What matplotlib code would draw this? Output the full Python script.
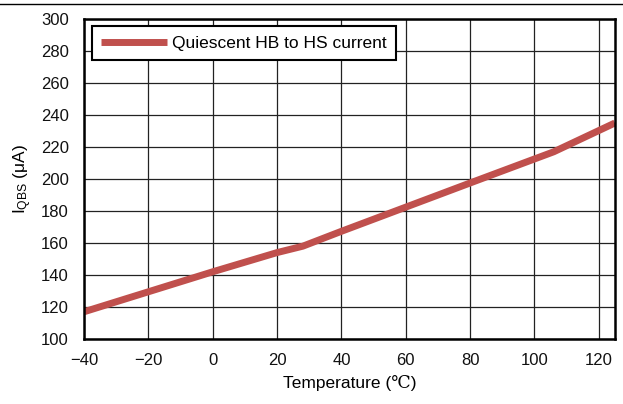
import matplotlib
matplotlib.use("Agg")
import matplotlib.pyplot as plt
import numpy as np

# values
temp = [-40, -20, 0, 20, 28, 40, 60, 80, 100, 106, 125]
iqbs = [117, 129.5, 142, 154, 158, 167.3, 182.4, 197.5, 212.5, 217, 235]

xticks = [-40, -20, 0, 20, 40, 60, 80, 100, 120]
yticks = [100, 120, 140, 160, 180, 200, 220, 240, 260, 280, 300]

plt.rcParams['font.family'] = ['Liberation Sans', 'DejaVu Sans']
plt.rcParams['mathtext.fontset'] = 'custom'
plt.rcParams['mathtext.rm'] = 'Liberation Sans'
plt.rcParams['mathtext.it'] = 'Liberation Sans'

fig = plt.figure(figsize=(6.23, 4.04), dpi=100)
ax = fig.add_axes([0.135, 0.161, 0.852, 0.792])

ax.plot(temp, iqbs, color='#C0504D', lw=5, solid_capstyle='butt',
        label='Quiescent HB to HS current')

ax.set_xlim(-40, 125)
ax.set_ylim(100, 300)
ax.set_xticks(xticks)
ax.set_yticks(yticks)
ax.grid(True, color='#222222', lw=0.9)
ax.set_axisbelow(True)
ax.tick_params(length=0, labelsize=12, colors='#111111')
ax.tick_params(axis='y', pad=11)
ax.tick_params(axis='x', pad=10)
for s in ax.spines.values():
    s.set_linewidth(1.8)
    s.set_color('black')

ax.set_xlabel('Temperature (\u2103)', fontsize=12.5, labelpad=5,
              family=['Liberation Sans', 'DejaVu Serif'])
ax.set_ylabel(r'I$_{\mathrm{QBS}}$ ($\mathrm{\mu}$A)', fontsize=12.5, labelpad=5)

leg = ax.legend(loc='upper left', bbox_to_anchor=(0.014, 0.978), fontsize=12.5,
                handlelength=3.8, handletextpad=0.3, borderpad=0.55,
                fancybox=False, framealpha=1, edgecolor='black', borderaxespad=0)
leg.get_frame().set_linewidth(1.5)

# thin rule across the top of the page
fig.add_artist(plt.Line2D([0, 1], [0.99, 0.99], transform=fig.transFigure,
                          color='black', lw=1))

fig.savefig('out.png', dpi=100)
